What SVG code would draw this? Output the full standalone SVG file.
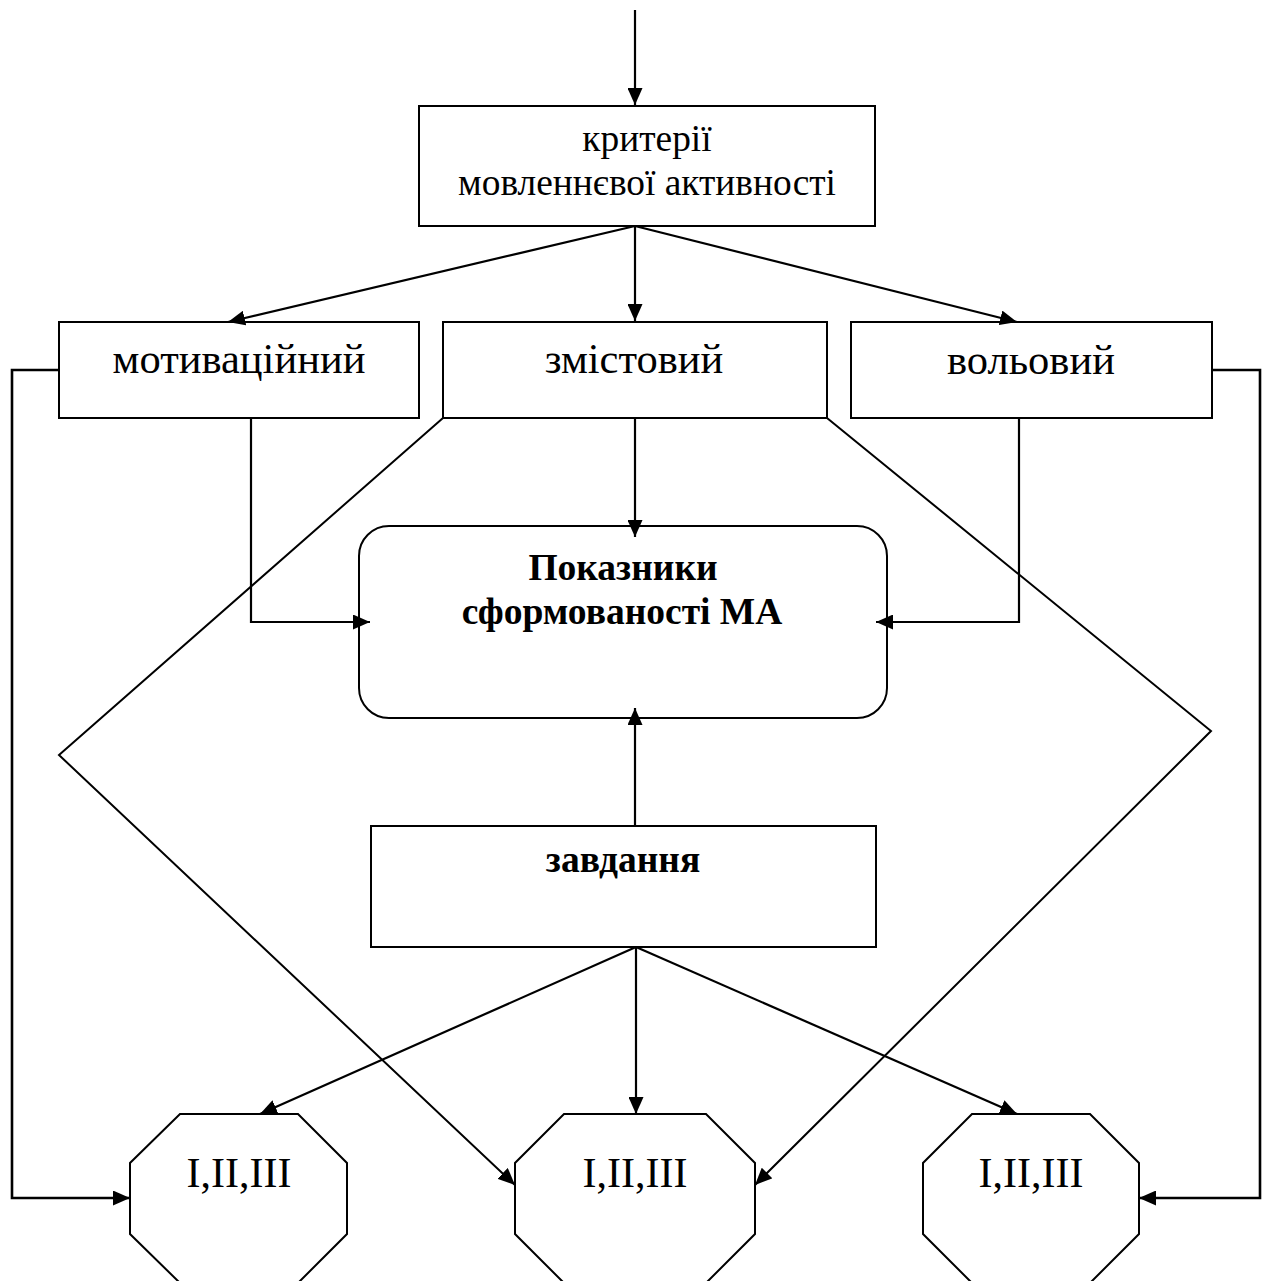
<svg xmlns="http://www.w3.org/2000/svg" width="1267" height="1281" viewBox="0 0 1267 1281">
<style>
.box{fill:#fff;stroke:#000;stroke-width:2}
.ln{fill:none;stroke:#000;stroke-width:2.2}
.thin{fill:none;stroke:#000;stroke-width:2}
.lp{fill:none;stroke:#000;stroke-width:2.6}
.t{font-family:"Liberation Serif","Times New Roman",serif;fill:#000;text-anchor:middle}
.b{font-weight:bold}
</style>
<defs>
<marker id="ah" markerUnits="userSpaceOnUse" markerWidth="18" markerHeight="15" refX="17" refY="7.5" orient="auto">
<path d="M0,0 L17,7.5 L0,15 z" fill="#000"/>
</marker>
</defs>
<rect width="1267" height="1281" fill="#fff"/>
<g id="criteria">
<rect class="box" x="419" y="106" width="456" height="120"/>
<text class="t" x="647" y="151" font-size="37.4">критерії</text>
<text class="t" x="647" y="195" font-size="37.4">мовленнєвої активності</text>
</g>
<g id="motivational">
<rect class="box" x="59" y="322" width="360" height="96"/>
<text class="t" x="239" y="373" font-size="42.5">мотиваційний</text>
</g>
<g id="content">
<rect class="box" x="443" y="322" width="384" height="96"/>
<text class="t" x="634" y="373" font-size="42.5">змістовий</text>
</g>
<g id="volitional">
<rect class="box" x="851" y="322" width="361" height="96"/>
<text class="t" x="1031" y="374" font-size="42.5">вольовий</text>
</g>
<g id="indicators">
<rect class="box" x="359" y="526" width="528" height="192" rx="30" ry="30"/>
<text class="t b" x="623" y="580" font-size="37.5">Показники</text>
<text class="t b" x="622" y="624" font-size="37.5">сформованості МА</text>
</g>
<g id="tasks">
<rect class="box" x="371" y="826" width="505" height="121"/>
<text class="t b" x="623" y="872" font-size="37.5">завдання</text>
</g>
<g id="level-left">
<polygon class="box" points="180,1114 298,1114 347,1163 347,1234 298,1283 180,1283 130,1234 130,1163"/>
<text class="t" x="239" y="1187" font-size="42">I,II,III</text>
</g>
<g id="level-center">
<polygon class="box" points="564,1114 706,1114 755,1163 755,1234 706,1283 564,1283 515,1234 515,1163"/>
<text class="t" x="635" y="1187" font-size="42">I,II,III</text>
</g>
<g id="level-right">
<polygon class="box" points="972,1114 1090,1114 1139,1163 1139,1234 1090,1283 972,1283 923,1234 923,1163"/>
<text class="t" x="1031" y="1187" font-size="42">I,II,III</text>
</g>
<g id="connectors">
<line class="ln" x1="635" y1="10" x2="635" y2="105" marker-end="url(#ah)"/>
<line class="ln" x1="635" y1="226" x2="228" y2="322" marker-end="url(#ah)"/>
<line class="ln" x1="635" y1="226" x2="635" y2="321" marker-end="url(#ah)"/>
<line class="ln" x1="635" y1="226" x2="1017" y2="322" marker-end="url(#ah)"/>
<path class="lp" d="M59,370 H12 V1198 H130" marker-end="url(#ah)"/>
<path class="lp" d="M1212,370 H1260 V1198 H1139" marker-end="url(#ah)"/>
<path class="ln" d="M251,418 V622 H370" marker-end="url(#ah)"/>
<path class="ln" d="M1019,418 V622 H876" marker-end="url(#ah)"/>
<line class="ln" x1="635" y1="418" x2="635" y2="537" marker-end="url(#ah)"/>
<line class="ln" x1="635" y1="826" x2="635" y2="708" marker-end="url(#ah)"/>
<path class="thin" d="M443,418 L59,755 L515,1185" marker-end="url(#ah)"/>
<path class="thin" d="M827,418 L1211,731 L755,1185" marker-end="url(#ah)"/>
<line class="ln" x1="636" y1="947" x2="260" y2="1114" marker-end="url(#ah)"/>
<line class="ln" x1="636" y1="947" x2="636" y2="1114" marker-end="url(#ah)"/>
<line class="ln" x1="636" y1="947" x2="1017" y2="1114" marker-end="url(#ah)"/>
</g>
</svg>
